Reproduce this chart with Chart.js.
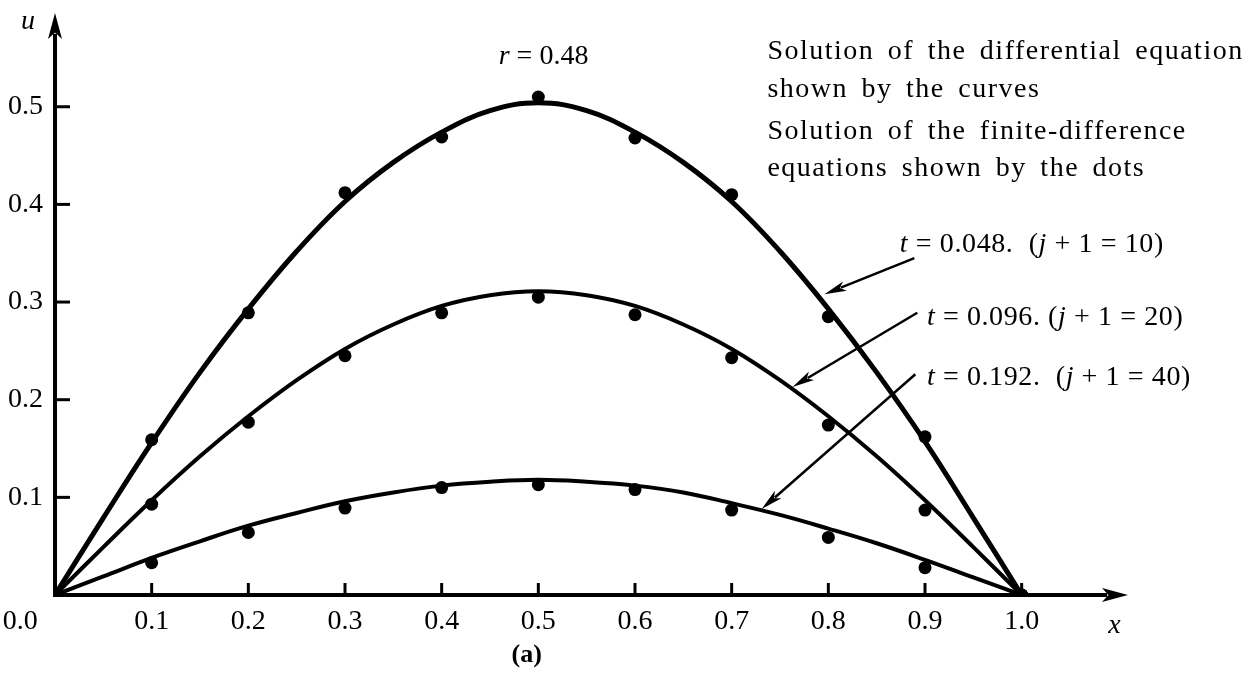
<!DOCTYPE html>
<html>
<head>
<meta charset="utf-8">
<script src="https://cdn.jsdelivr.net/npm/chart.js@4/dist/chart.umd.min.js"></script>
<style>
  html, body { margin: 0; padding: 0; background: #fff; }
  #wrap { width: 1252px; height: 677px; position: relative; }
</style>
</head>
<body>
<div id="wrap"><canvas id="heatChart"></canvas></div>
<script>
// curves: solution of the differential equation, read every 0.05 in x
const xCurve = [0, 0.05, 0.1, 0.15, 0.2, 0.25, 0.3, 0.35, 0.4, 0.45, 0.5,
                0.55, 0.6, 0.65, 0.7, 0.75, 0.8, 0.85, 0.9, 0.95, 1.0];
const curveT048 = [0, 0.079, 0.156, 0.228, 0.293, 0.352, 0.403, 0.443, 0.474, 0.496, 0.504,
                   0.496, 0.474, 0.443, 0.403, 0.352, 0.293, 0.228, 0.157, 0.079, 0];
const curveT096 = [0, 0.049, 0.097, 0.142, 0.183, 0.220, 0.252, 0.277, 0.296, 0.307, 0.311,
                   0.307, 0.296, 0.277, 0.252, 0.220, 0.183, 0.142, 0.097, 0.049, 0];
const curveT192 = [0, 0.019, 0.038, 0.055, 0.071, 0.084, 0.096, 0.105, 0.112, 0.116, 0.118,
                   0.116, 0.112, 0.105, 0.094, 0.082, 0.068, 0.053, 0.036, 0.018, 0];

// dots: solution of the finite-difference equations
const xDots = [0, 0.1, 0.2, 0.3, 0.4, 0.5, 0.6, 0.7, 0.8, 0.9, 1.0];
const dotsT048 = [0, 0.159, 0.289, 0.412, 0.469, 0.510, 0.468, 0.410, 0.285, 0.162, 0];
const dotsT096 = [0, 0.093, 0.177, 0.245, 0.289, 0.305, 0.287, 0.243, 0.174, 0.087, 0];
const dotsT192 = [0, 0.033, 0.064, 0.089, 0.110, 0.113, 0.108, 0.087, 0.059, 0.028, 0];

// axis ticks
const xTicks = [0.1, 0.2, 0.3, 0.4, 0.5, 0.6, 0.7, 0.8, 0.9, 1.0];
const xTickLabels = ['0.1', '0.2', '0.3', '0.4', '0.5', '0.6', '0.7', '0.8', '0.9', '1.0'];
const yTicks = [0.1, 0.2, 0.3, 0.4, 0.5];
const yTickLabels = ['0.1', '0.2', '0.3', '0.4', '0.5'];

// curve labels (italic runs marked true)
const curveLabels = [
    [['t', true], [' = 0.048.  (', false], ['j', true], [' + 1 = 10)', false]],
    [['t', true], [' = 0.096. (', false], ['j', true], [' + 1 = 20)', false]],
    [['t', true], [' = 0.192.  (', false], ['j', true], [' + 1 = 40)', false]]
];
const noteLines = [
    'Solution of the differential equation',
    'shown by the curves',
    'Solution of the finite-difference',
    'equations shown by the dots'
];

const SERIF = '"Liberation Serif", "DejaVu Serif", serif';
const INK = '#000';

const pts = (xs, ys) => xs.map((x, i) => ({ x, y: ys[i] }));

function drawRuns(ctx, runs, x, y, size) {
    let cx = x;
    runs.forEach(([txt, italic]) => {
        ctx.font = (italic ? 'italic ' : '') + size + 'px ' + SERIF;
        ctx.fillText(txt, cx, y);
        cx += ctx.measureText(txt).width;
    });
}

function arrow(ctx, x1, y1, x2, y2, head, half) {
    const a = Math.atan2(y2 - y1, x2 - x1);
    ctx.beginPath();
    ctx.moveTo(x1, y1);
    ctx.lineTo(x2 - Math.cos(a) * head * 0.8, y2 - Math.sin(a) * head * 0.8);
    ctx.stroke();
    ctx.beginPath();
    ctx.moveTo(x2, y2);
    ctx.lineTo(x2 - Math.cos(a) * head + Math.sin(a) * half, y2 - Math.sin(a) * head - Math.cos(a) * half);
    ctx.lineTo(x2 - Math.cos(a) * head * 0.75, y2 - Math.sin(a) * head * 0.75);
    ctx.lineTo(x2 - Math.cos(a) * head - Math.sin(a) * half, y2 - Math.sin(a) * head + Math.cos(a) * half);
    ctx.closePath();
    ctx.fill();
}

/**
 * Axes with arrowheads, inner tick marks and all the annotation text
 */
const figurePlugin = {
    id: 'figureDecor',
    afterDatasetsDraw(chart) {
        const { ctx, chartArea, scales } = chart;
        const px = v => scales.x.getPixelForValue(v);
        const py = v => scales.y.getPixelForValue(v);
        const x0 = px(0), y0 = py(0);

        ctx.save();
        ctx.strokeStyle = INK;
        ctx.fillStyle = INK;
        ctx.lineCap = 'butt';

        // axes
        ctx.lineWidth = 4;
        arrow(ctx, x0, y0 + 2, x0, chartArea.top, 26, 7);
        arrow(ctx, x0 - 2, y0, chartArea.right, y0, 26, 7);

        // inner ticks
        ctx.lineWidth = 3;
        yTicks.forEach(v => {
            ctx.beginPath();
            ctx.moveTo(x0, py(v));
            ctx.lineTo(x0 + 15, py(v));
            ctx.stroke();
        });
        xTicks.forEach(v => {
            ctx.beginPath();
            ctx.moveTo(px(v), y0);
            ctx.lineTo(px(v), y0 - 12);
            ctx.stroke();
        });

        // axis names and origin label
        ctx.textBaseline = 'middle';
        ctx.textAlign = 'center';
        ctx.font = 'italic 28px ' + SERIF;
        ctx.fillText('u', px(-0.028), py(0.587));
        ctx.fillText('x', px(1.096), py(-0.031));
        ctx.font = '28px ' + SERIF;
        ctx.fillText('0.0', px(-0.036), py(-0.027));
        ctx.font = 'bold 26px ' + SERIF;
        ctx.fillText('(a)', px(0.488), py(-0.062));

        // r = 0.48
        ctx.textAlign = 'left';
        drawRuns(ctx, [['r', true], [' = 0.48', false]], px(0.459), py(0.551), 28);

        // explanatory notes
        ctx.font = '28px ' + SERIF;
        ctx.letterSpacing = '1.5px';
        ctx.wordSpacing = '5px';
        const noteY = [0.556, 0.518, 0.474, 0.437];
        noteLines.forEach((s, i) => ctx.fillText(s, px(0.737), py(noteY[i])));

        // curve labels with arrows
        ctx.letterSpacing = '0.6px';
        ctx.wordSpacing = '0px';
        const labelAt = [[0.874, 0.359], [0.902, 0.284], [0.902, 0.223]];
        curveLabels.forEach((runs, i) => drawRuns(ctx, runs, px(labelAt[i][0]), py(labelAt[i][1]), 28));
        ctx.letterSpacing = '0px';

        ctx.lineWidth = 2.5;
        const arrows = [
            [0.889, 0.345, 0.796, 0.308],
            [0.892, 0.289, 0.763, 0.213],
            [0.890, 0.226, 0.731, 0.088]
        ];
        arrows.forEach(a => arrow(ctx, px(a[0]), py(a[1]), px(a[2]), py(a[3]), 22, 5));

        ctx.restore();
    }
};

const curveStyle = (w) => ({
    type: 'line', borderColor: INK, borderWidth: w, pointRadius: 0,
    tension: 0.4, fill: false, showLine: true
});
const dotStyle = {
    type: 'scatter', backgroundColor: INK, borderColor: INK, pointRadius: 6.5,
    pointBorderWidth: 0, showLine: false
};

new Chart(document.getElementById('heatChart').getContext('2d'), {
    type: 'scatter',
    data: {
        datasets: [
            { ...curveStyle(5), data: pts(xCurve, curveT048) },
            { ...curveStyle(4), data: pts(xCurve, curveT096) },
            { ...curveStyle(4), data: pts(xCurve, curveT192) },
            { ...dotStyle, data: pts(xDots, dotsT048) },
            { ...dotStyle, data: pts(xDots, dotsT096) },
            { ...dotStyle, data: pts(xDots, dotsT192) }
        ]
    },
    options: {
        responsive: true,
        maintainAspectRatio: false,
        animation: false,
        layout: { padding: { top: 13, right: 124, left: 0, bottom: 0 } },
        scales: {
            x: {
                type: 'linear', min: 0, max: 1.11,
                afterBuildTicks: s => { s.ticks = xTicks.map(v => ({ value: v })); },
                afterFit: s => { s.height = 82; s.paddingLeft = 0; s.paddingRight = 0; },
                ticks: {
                    autoSkip: false, maxRotation: 0, padding: 10,
                    color: INK, font: { family: SERIF, size: 28 },
                    callback: (v) => xTickLabels[xTicks.indexOf(v)]
                },
                grid: { display: false, drawTicks: false },
                border: { display: false }
            },
            y: {
                type: 'linear', min: 0, max: 0.596,
                afterBuildTicks: s => { s.ticks = yTicks.map(v => ({ value: v })); },
                afterFit: s => { s.width = 55; s.paddingTop = 0; s.paddingBottom = 0; },
                ticks: {
                    autoSkip: false, padding: 12,
                    color: INK, font: { family: SERIF, size: 28 },
                    callback: (v) => yTickLabels[yTicks.indexOf(v)]
                },
                grid: { display: false, drawTicks: false },
                border: { display: false }
            }
        },
        plugins: {
            legend: { display: false },
            tooltip: { enabled: false }
        }
    },
    plugins: [figurePlugin]
});
</script>
</body>
</html>
